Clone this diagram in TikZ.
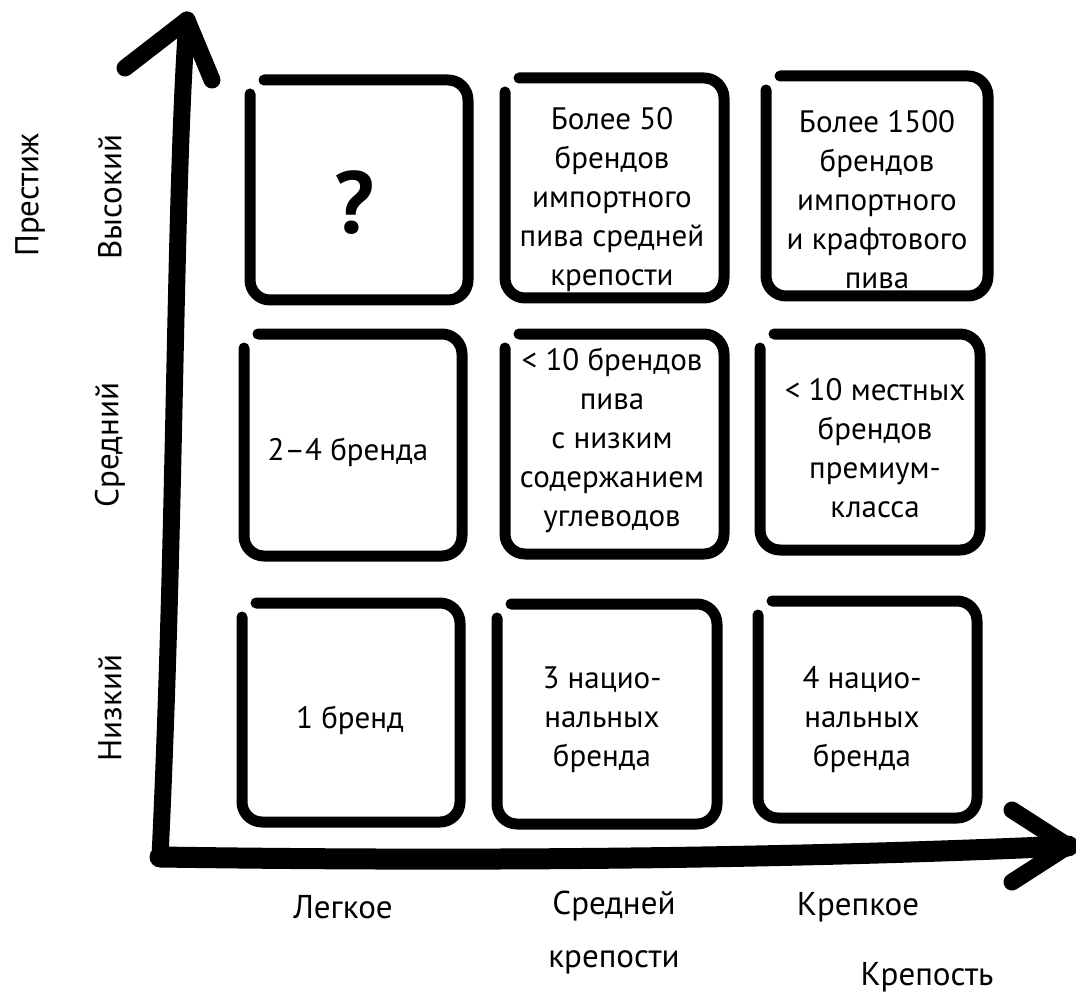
\documentclass[tikz,border=0pt]{standalone}
\usepackage{fontspec}
\setmainfont{PT Sans}
\begin{document}
\begin{tikzpicture}[x=1pt,y=-1pt,
  boxline/.style={line width=11pt,line cap=round,line join=round,rounded corners=20pt},
  celltext/.style={align=center,font=\fontsize{31}{39}\selectfont,inner sep=0pt},
  axlabel/.style={align=center,font=\fontsize{33}{53}\selectfont,inner sep=0pt}]
\useasboundingbox (0,0) rectangle (1076,1000);

% boxes: left, top, right, bottom
\newcommand\sketchbox[4]{%
  \draw[boxline] (#1,#2+14) -- (#1,#4) -- (#3,#4) -- (#3,#2) -- (#1+14,#2);}
\sketchbox{250}{80}{468}{300}
\sketchbox{505}{78}{724}{298}
\sketchbox{766}{76}{988}{296}
\sketchbox{244}{334}{462}{556}
\sketchbox{505}{334}{724}{554}
\sketchbox{760}{334}{980}{550}
\sketchbox{242}{603}{460}{822}
\sketchbox{497}{604}{717}{824}
\sketchbox{758}{601}{977}{818}

% axes
\coordinate (o) at (160,857);
\coordinate (ytip) at (187,20);
\coordinate (xtip) at (1068,846);
\draw[line width=17pt,line cap=round] (o) .. controls (176,520) and (174,200) .. (ytip);
\draw[line width=17pt,line cap=round,line join=round] (125,68) -- (ytip) -- (212,80);
\draw[line width=21pt,line cap=round] (o) .. controls (500,862) and (800,858) .. (xtip);
\draw[line width=17pt,line cap=round,line join=round] (1012,810) -- (xtip) -- (1012,882);

% cell texts
\node[inner sep=0pt,font=\fontsize{88}{88}\selectfont\bfseries] (c11) at (354,203) {?};
\node[celltext] (c12) at (612,200) {Более 50\\брендов\\импортного\\пива средней\\крепости};
\node[celltext] (c13) at (877,200) {Более 1500\\брендов\\импортного\\и крафтового\\пива};
\node[celltext] (c21) at (348,452) {2–4 бренда};
\node[celltext] (c22) at (612,440) {< 10 брендов\\пива\\с низким\\содержанием\\углеводов};
\node[celltext] (c23) at (875,448) {< 10 местных\\брендов\\премиум-\\класса};
\node[celltext] (c31) at (350,720) {1 бренд};
\node[celltext] (c32) at (602,720) {3 нацио-\\нальных\\бренда};
\node[celltext] (c33) at (862,720) {4 нацио-\\нальных\\бренда};

% axis labels
\node[axlabel,rotate=90] (prestige) at (30,195) {Престиж};
\node[axlabel,rotate=90] (high) at (110,197) {Высокий};
\node[axlabel,rotate=90] (mid) at (110,445) {Средний};
\node[axlabel,rotate=90] (low) at (110,708) {Низкий};
\node[axlabel] (light) at (343,907) {Легкое};
\node[axlabel] (medium) at (614,933) {Средней\\крепости};
\node[axlabel] (strong) at (858,907) {Крепкое};
\node[axlabel] (strength) at (927,977) {Крепость};
\end{tikzpicture}
\end{document}
